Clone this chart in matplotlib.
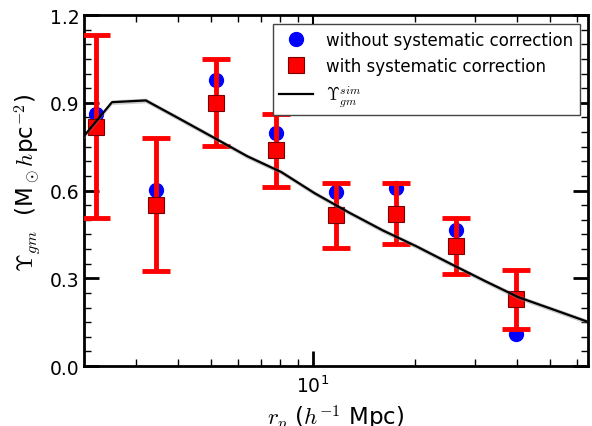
#!/usr/bin/env python3
# -*- coding: utf-8 -*-

import numpy as np
import matplotlib
matplotlib.use('Agg')
import matplotlib.pyplot as plt
from matplotlib.lines import Line2D
from matplotlib.ticker import MultipleLocator, NullFormatter

plt.rcParams['mathtext.fontset'] = 'cm'
plt.rcParams['font.family'] = ['DejaVu Sans']

# 测量点 (h^-1 Mpc)
rp = [2.29, 3.44, 5.18, 7.78, 11.7, 17.6, 26.4, 39.7]
# 未做系统修正
ups_raw = [0.860, 0.603, 0.979, 0.795, 0.596, 0.610, 0.465, 0.111]
# 做了系统修正
ups_cor = [0.818, 0.551, 0.900, 0.738, 0.515, 0.521, 0.410, 0.228]
ups_err = [0.312, 0.227, 0.149, 0.125, 0.110, 0.104, 0.097, 0.101]

# 模拟曲线
rp_sim = [2.02, 2.55, 3.21, 4.04, 5.09, 6.40, 8.06, 10.1, 12.8, 16.1,
          20.2, 25.5, 32.1, 40.4, 50.9, 64.0]
ups_sim = [0.760, 0.902, 0.908, 0.845, 0.781, 0.717, 0.663, 0.591, 0.524,
           0.463, 0.409, 0.349, 0.291, 0.235, 0.194, 0.153]
sim_band = 0.008

xlim = (2.11, 64.7)

fig = plt.figure(figsize=(5.92, 4.27), dpi=100)
ax = fig.add_axes([0.142, 0.1405, 0.851, 0.822])

ax.plot(rp, ups_raw, 'o', color='blue', markersize=10, mec='blue', zorder=2)
ax.errorbar(rp, ups_cor, yerr=ups_err, fmt='none', ecolor='red',
            elinewidth=3.5, capsize=10, capthick=3.5, zorder=3)
ax.plot(rp, ups_cor, 's', color='red', mec='#7a0000', mew=0.8,
        markersize=11, zorder=3.5)
sim = np.array(ups_sim)
ax.fill_between(rp_sim, sim - sim_band, sim + sim_band, color='gray',
                alpha=0.4, lw=0, zorder=4)
ax.plot(rp_sim, ups_sim, '-', color='black', lw=1.6, zorder=5)

ax.set_xscale('log')
ax.set_xlim(*xlim)
ax.set_ylim(0, 1.2)
ax.yaxis.set_major_locator(MultipleLocator(0.3))
ax.yaxis.set_minor_locator(MultipleLocator(0.05))
ax.xaxis.set_minor_formatter(NullFormatter())

for s in ax.spines.values():
    s.set_linewidth(2)
ax.tick_params(which='both', direction='in', top=False, right=True,
               labelsize=13.5)
ax.tick_params(axis='x', which='both', pad=6)
ax.tick_params(which='major', length=10.5, width=2)
ax.tick_params(which='minor', length=5, width=1)

# 上边框刻度较短
ax_top = ax.twiny()
ax_top.set_xscale('log')
ax_top.set_xlim(*xlim)
ax_top.tick_params(which='both', direction='in', top=True, bottom=False,
                   labeltop=False, labelbottom=False)
ax_top.tick_params(which='major', length=6.5, width=1.5)
ax_top.tick_params(which='minor', length=5, width=1)
for s in ax_top.spines.values():
    s.set_visible(False)

ax.set_xlabel(r'$r_p$ ($h^{-1}$ Mpc)', fontsize=16.5, labelpad=5)
ax.set_ylabel(r'$\Upsilon_{gm}$  (M$_\odot h$pc$^{-2}$)', fontsize=16.5)
ax.yaxis.set_label_coords(-0.08, 0.525)

handles = [
    Line2D([], [], ls='none', marker='o', color='blue', markersize=10),
    Line2D([], [], ls='none', marker='s', color='red', mec='#7a0000',
           mew=0.8, markersize=11),
    Line2D([], [], color='black', lw=1.6),
]
labels = ['without systematic correction', 'with systematic correction',
          r'$\Upsilon_{gm}^{sim}$']
leg = ax.legend(handles, labels, loc='upper right',
                bbox_to_anchor=(0.984, 0.974), borderaxespad=0, numpoints=1,
                fontsize=12, fancybox=False, framealpha=1)
leg.get_frame().set_edgecolor('#444444')
leg.set_zorder(10)

plt.savefig('out.png', dpi=100)
